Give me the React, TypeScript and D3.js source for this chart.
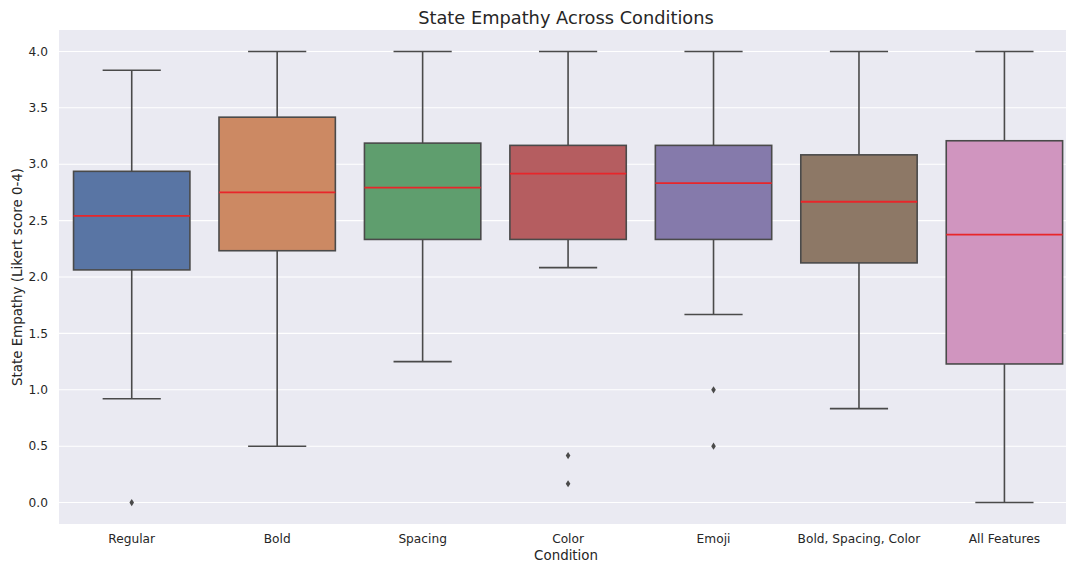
import React from "react";
import * as d3 from "d3";

const categories = ["Regular", "Bold", "Spacing", "Color", "Emoji", "Bold, Spacing, Color", "All Features"];
const whiskerLow = [0.92, 0.5, 1.25, 2.083, 1.667, 0.833, 0.0];
const q1 = [2.063, 2.233, 2.333, 2.333, 2.333, 2.125, 1.229];
const medians = [2.542, 2.75, 2.792, 2.917, 2.833, 2.667, 2.375];
const q3 = [2.937, 3.417, 3.187, 3.167, 3.167, 3.083, 3.208];
const whiskerHigh = [3.833, 4.0, 4.0, 4.0, 4.0, 4.0, 4.0];
const outliers: number[][] = [[0.0], [], [], [0.417, 0.167], [1.0, 0.5], [], []];
const colors = ["#5975a4", "#cc8963", "#5f9e6e", "#b55d60", "#857aab", "#8d7866", "#d095bf"];
const yTicks = [0, 0.5, 1, 1.5, 2, 2.5, 3, 3.5, 4];

const W = 1066;
const H = 565;
const left = 59;
const step = 145.45;
const top = 30;
const bottom = 524;

export default function App() {
  const x = d3
    .scaleBand<string>()
    .domain(categories)
    .range([left, left + step * categories.length])
    .paddingInner(0)
    .paddingOuter(0);
  const y = d3.scaleLinear().domain([-0.19, 4.19]).range([bottom, top]);
  const bw = x.bandwidth() * 0.8;
  const edge = "#4a4a4a";
  const font = "DejaVu Sans, sans-serif";
  const plotRight = left + step * categories.length;

  const diamond = (cx: number, cy: number) =>
    `M${cx},${cy - 3.6}L${cx + 2.3},${cy}L${cx},${cy + 3.6}L${cx - 2.3},${cy}Z`;

  return (
    <svg
      width={W}
      height={H}
      style={{ position: "absolute", left: 0, top: 0, background: "#fff" }}
      fontFamily={font}
    >
      <rect x={left} y={top} width={plotRight - left} height={bottom - top} fill="#EAEAF2" />
      {yTicks.map((t) => (
        <line key={"g" + t} x1={left} x2={plotRight} y1={y(t)} y2={y(t)} stroke="#fff" strokeWidth={1.1} />
      ))}
      {yTicks.map((t) => (
        <text
          key={"t" + t}
          x={48}
          y={y(t)}
          dy="0.35em"
          textAnchor="end"
          fontSize={12.2}
          fill="#262626"
        >
          {d3.format(".1f")(t)}
        </text>
      ))}
      {categories.map((c, i) => {
        const cx = (x(c) as number) + x.bandwidth() / 2;
        const x0 = cx - bw / 2;
        return (
          <g key={c}>
            <line x1={cx} x2={cx} y1={y(whiskerHigh[i])} y2={y(q3[i])} stroke={edge} strokeWidth={1.6} />
            <line x1={cx} x2={cx} y1={y(q1[i])} y2={y(whiskerLow[i])} stroke={edge} strokeWidth={1.6} />
            <line x1={cx - bw / 4} x2={cx + bw / 4} y1={y(whiskerHigh[i])} y2={y(whiskerHigh[i])} stroke={edge} strokeWidth={1.6} />
            <line x1={cx - bw / 4} x2={cx + bw / 4} y1={y(whiskerLow[i])} y2={y(whiskerLow[i])} stroke={edge} strokeWidth={1.6} />
            <rect
              x={x0}
              y={y(q3[i])}
              width={bw}
              height={y(q1[i]) - y(q3[i])}
              fill={colors[i]}
              stroke={edge}
              strokeWidth={1.6}
            />
            <line x1={x0} x2={x0 + bw} y1={y(medians[i])} y2={y(medians[i])} stroke="#e8262a" strokeWidth={1.8} />
            {outliers[i].map((o, k) => (
              <path key={k} d={diamond(cx, y(o))} fill={edge} />
            ))}
            <text x={cx} y={539} dy="0.35em" textAnchor="middle" fontSize={12.2} fill="#262626">
              {c}
            </text>
          </g>
        );
      })}
      <text x={(left + plotRight) / 2 - 2} y={555} dy="0.35em" textAnchor="middle" fontSize={13.4} fill="#262626">
        Condition
      </text>
      <text
        transform={`translate(17,${(top + bottom) / 2}) rotate(-90)`}
        dy="0.35em"
        textAnchor="middle"
        fontSize={13.4}
        fill="#262626"
      >
        State Empathy (Likert score 0-4)
      </text>
      <text x={566} y={18} dy="0.35em" textAnchor="middle" fontSize={17.8} fill="#262626">
        State Empathy Across Conditions
      </text>
    </svg>
  );
}
